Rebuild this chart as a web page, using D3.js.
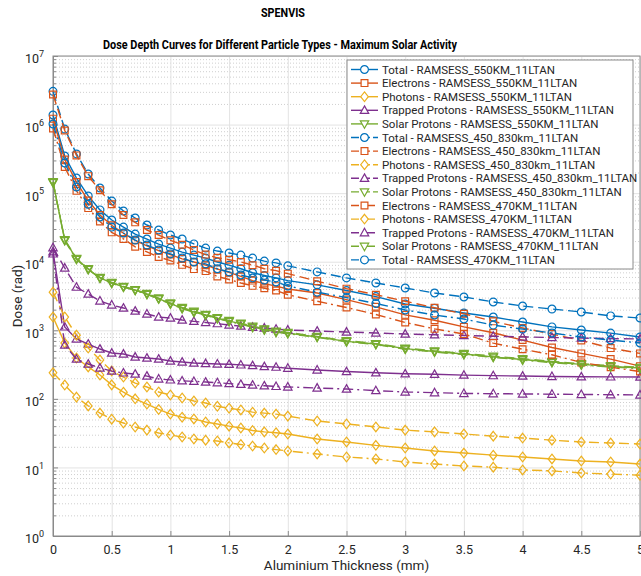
<!DOCTYPE html>
<html>
<head>
<meta charset="utf-8">
<script src="https://cdn.jsdelivr.net/npm/d3@7"></script>
<style>
    body { margin: 0; background: #fff; }
    svg { font-family: Roboto, "Noto Sans", sans-serif; }
</style>
</head>
<body>
<svg id="chart" width="641" height="576"></svg>
<script>
// aluminium depths (mm)
var depths = [0, 0.1, 0.2, 0.3, 0.4, 0.5, 0.6, 0.7, 0.8, 0.9, 1.0, 1.1, 1.2, 1.3, 1.4, 1.5, 1.6, 1.7, 1.8, 1.9, 2.0,
    2.25, 2.5, 2.75, 3.0, 3.25, 3.5, 3.75, 4.0, 4.25, 4.5, 4.75, 5.0];

// RAMSESS_550KM_11LTAN
var total550 = [1.38e6, 3.48e5, 1.66e5, 9.1e4, 5.7e4, 4.06e4, 3.2e4, 2.53e4, 2.14e4, 1.81e4, 1.58e4, 1.38e4, 1.25e4, 1.13e4, 9.9e3, 8.9e3, 7.9e3, 6.9e3, 6.3e3, 5.8e3, 5.3e3,
    4.6e3, 3.8e3, 3.1e3, 2.42e3, 2.1e3, 1.79e3, 1.56e3, 1.32e3, 1.12e3, 1.01e3, 910, 800];
var electrons550 = [1.22e6, 3.1e5, 1.45e5, 7.8e4, 4.8e4, 3.4e4, 2.6e4, 2.05e4, 1.7e4, 1.45e4, 1.27e4, 1.1e4, 9.9e3, 8.9e3, 7.8e3, 7.0e3, 6.1e3, 5.3e3, 4.8e3, 4.4e3, 4.0e3,
    3.5e3, 2.8e3, 2.2e3, 1.68e3, 1.4e3, 1.12e3, 920, 720, 560, 460, 380, 300];
var photons550 = [1560, 650, 394, 292, 223, 160, 125, 100, 84, 70, 60, 54, 51, 46, 43, 40, 37.6, 34.5, 33, 32, 30.7,
    26, 23.5, 21, 19.2, 17.4, 16.2, 15.1, 14.2, 13.3, 12.4, 12, 11.2];
var trapped550 = [1.4e4, 1120, 748, 630, 533, 466, 451, 408, 394, 381, 356, 344, 333, 328, 323, 319, 313, 306, 296, 290, 280,
    264, 250, 240, 232, 228, 222, 218, 215, 212, 210, 209, 208];
var solar550 = [1.45e5, 2.07e4, 1.1e4, 7.8e3, 5.8e3, 4.9e3, 4.3e3, 3.87e3, 3.38e3, 2.9e3, 2.45e3, 2.1e3, 1.85e3, 1.67e3, 1.5e3, 1.36e3, 1.25e3, 1.12e3, 1.03e3, 950, 910,
    800, 690, 630, 540, 490, 450, 410, 375, 345, 318, 298, 282];

// RAMSESS_450_830km_11LTAN
var total450 = [3.05e6, 8.6e5, 3.73e5, 1.9e5, 1.19e5, 7.7e4, 5.5e4, 4.34e4, 3.43e4, 2.9e4, 2.45e4, 2.14e4, 1.82e4, 1.58e4, 1.43e4, 1.34e4, 1.25e4, 1.13e4, 1.02e4, 9.6e3, 8.7e3,
    7.1e3, 5.8e3, 4.9e3, 4.14e3, 3.5e3, 3.06e3, 2.59e3, 2.26e3, 2.04e3, 1.85e3, 1.62e3, 1.51e3];
var electrons450 = [2.75e6, 8.2e5, 3.55e5, 1.77e5, 1.1e5, 6.9e4, 4.8e4, 3.75e4, 2.9e4, 2.45e4, 2.05e4, 1.77e4, 1.48e4, 1.27e4, 1.14e4, 1.07e4, 9.9e3, 8.9e3, 7.9e3, 7.4e3, 6.7e3,
    5.2e3, 4.05e3, 3.3e3, 2.65e3, 2.13e3, 1.74e3, 1.35e3, 1.08e3, 880, 710, 550, 460];
var photons450 = [3600, 1560, 850, 550, 370, 255, 208, 170, 149, 126, 114, 103, 93, 87, 78, 73, 69, 64, 62, 60, 56,
    47.5, 43, 39, 35, 33, 30.7, 28.6, 26.8, 25, 23.5, 22.7, 22];
var trapped450 = [1.6e4, 8100, 4260, 3380, 2680, 2340, 2110, 1910, 1730, 1560, 1510, 1410, 1350, 1300, 1250, 1195, 1150, 1110, 1080, 1040, 1010,
    975, 944, 915, 883, 860, 840, 820, 800, 785, 770, 757, 746];
var solar450 = [1.42e5, 2.1e4, 1.12e4, 7.9e3, 5.9e3, 5.0e3, 4.35e3, 3.9e3, 3.45e3, 2.95e3, 2.5e3, 2.15e3, 1.9e3, 1.7e3, 1.53e3, 1.39e3, 1.27e3, 1.15e3, 1.05e3, 970, 930,
    815, 705, 640, 550, 500, 460, 420, 385, 352, 325, 305, 288];

// RAMSESS_470KM_11LTAN
var total470 = [1.02e6, 2.75e5, 1.23e5, 6.9e4, 4.49e4, 3.2e4, 2.62e4, 2.07e4, 1.75e4, 1.48e4, 1.3e4, 1.13e4, 9.9e3, 9.3e3, 7.9e3, 7.1e3, 6.4e3, 5.8e3, 5.4e3, 5.06e3, 4.42e3,
    3.6e3, 3.0e3, 2.46e3, 1.98e3, 1.67e3, 1.46e3, 1.19e3, 1.04e3, 913, 798, 721, 653];
var electrons470 = [8.8e5, 2.4e5, 1.08e5, 6.05e4, 3.85e4, 2.68e4, 2.15e4, 1.65e4, 1.39e4, 1.17e4, 1.04e4, 9.0e3, 7.8e3, 7.3e3, 6.1e3, 5.5e3, 4.9e3, 4.45e3, 4.1e3, 3.8e3, 3.3e3,
    2.65e3, 2.15e3, 1.7e3, 1.3e3, 1.05e3, 880, 650, 530, 440, 340, 290, 250];
var photons470 = [240, 159, 106, 79, 62, 50.6, 44.5, 38.8, 35, 31.8, 29.7, 27.8, 26, 25, 24.3, 22.8, 21.6, 20.5, 19.2, 18.2, 17.4,
    15.7, 14.2, 13.3, 12, 11.2, 10.5, 10.1, 9.2, 8.9, 8.3, 8.0, 7.7];
var trapped470 = [1.3e4, 610, 380, 322, 282, 254, 239, 230, 215, 195, 189, 183, 180, 176, 172, 167, 163, 159, 155, 152, 149,
    144, 139, 132, 126, 123, 120, 119, 118, 117, 116, 115, 114];
var solar470 = [1.47e5, 2.03e4, 1.08e4, 7.7e3, 5.75e3, 4.85e3, 4.25e3, 3.82e3, 3.33e3, 2.86e3, 2.42e3, 2.07e3, 1.82e3, 1.65e3, 1.48e3, 1.34e3, 1.23e3, 1.1e3, 1.01e3, 935, 895,
    790, 680, 620, 530, 482, 442, 403, 368, 338, 312, 292, 276];

var xTicks = [0, 0.5, 1, 1.5, 2, 2.5, 3, 3.5, 4, 4.5, 5];
var yTicks = [1, 10, 100, 1e3, 1e4, 1e5, 1e6, 1e7];

var blue = "#0072BD", orange = "#D95319", yellow = "#EDB120", purple = "#7E2F8E", green = "#77AC30";
var solid = null, dashed = "10,5", dashDot = "10,4,2,4";

// plot order = legend order
var series = [
    { name: "Total - RAMSESS_550KM_11LTAN", values: total550, color: blue, marker: "o", dash: solid },
    { name: "Electrons - RAMSESS_550KM_11LTAN", values: electrons550, color: orange, marker: "s", dash: solid },
    { name: "Photons - RAMSESS_550KM_11LTAN", values: photons550, color: yellow, marker: "d", dash: solid },
    { name: "Trapped Protons - RAMSESS_550KM_11LTAN", values: trapped550, color: purple, marker: "^", dash: solid },
    { name: "Solar Protons - RAMSESS_550KM_11LTAN", values: solar550, color: green, marker: "v", dash: solid },
    { name: "Total - RAMSESS_450_830km_11LTAN", values: total450, color: blue, marker: "o", dash: dashed },
    { name: "Electrons - RAMSESS_450_830km_11LTAN", values: electrons450, color: orange, marker: "s", dash: dashed },
    { name: "Photons - RAMSESS_450_830km_11LTAN", values: photons450, color: yellow, marker: "d", dash: dashed },
    { name: "Trapped Protons - RAMSESS_450_830km_11LTAN", values: trapped450, color: purple, marker: "^", dash: dashed },
    { name: "Solar Protons - RAMSESS_450_830km_11LTAN", values: solar450, color: green, marker: "v", dash: dashed },
    { name: "Electrons - RAMSESS_470KM_11LTAN", values: electrons470, color: orange, marker: "s", dash: dashDot },
    { name: "Photons - RAMSESS_470KM_11LTAN", values: photons470, color: yellow, marker: "d", dash: dashDot },
    { name: "Trapped Protons - RAMSESS_470KM_11LTAN", values: trapped470, color: purple, marker: "^", dash: dashDot },
    { name: "Solar Protons - RAMSESS_470KM_11LTAN", values: solar470, color: green, marker: "v", dash: dashDot },
    { name: "Total - RAMSESS_470KM_11LTAN", values: total470, color: blue, marker: "o", dash: dashDot }
];

function markerPath(type) {
    switch (type) {
        case "o": return "M3.9,0A3.9,3.9 0 1,1 -3.9,0A3.9,3.9 0 1,1 3.9,0Z";
        case "s": return "M-3.4,-3.4H3.4V3.4H-3.4Z";
        case "d": return "M0,-4.8L3.8,0L0,4.8L-3.8,0Z";
        case "^": return "M0,-4.4L4.2,3.1L-4.2,3.1Z";
        case "v": return "M0,4.4L4.2,-3.1L-4.2,-3.1Z";
    }
}

var svg = d3.select("#chart"),
    margin = { top: 56, right: 1, bottom: 40, left: 53 },
    width = +svg.attr("width") - margin.left - margin.right,
    height = +svg.attr("height") - margin.top - margin.bottom,
    g = svg.append("g").attr("transform", "translate(" + margin.left + "," + margin.top + ")");

var x = d3.scaleLinear().domain([0, 5]).range([0, width]);
var y = d3.scaleLog().domain([1, 1e7]).range([height, 0]);

// minor grid (dotted)
var minorVals = [];
yTicks.slice(0, -1).forEach(function (d) {
    for (var k = 2; k <= 9; k++) minorVals.push(d * k);
});
g.append("g")
    .call(d3.axisLeft(y).tickValues(minorVals).tickSize(-width).tickFormat(""))
    .call(s => s.select(".domain").remove())
    .call(s => s.selectAll(".tick line").attr("stroke", "#cfcfcf").attr("stroke-dasharray", "1,2"));

// major grid
g.append("g")
    .call(d3.axisLeft(y).tickValues(yTicks).tickSize(-width).tickFormat(""))
    .call(s => s.select(".domain").remove())
    .call(s => s.selectAll(".tick line").attr("stroke", "#e3e3e3"));
g.append("g")
    .attr("transform", "translate(0," + height + ")")
    .call(d3.axisBottom(x).tickValues(xTicks).tickSize(-height).tickFormat(""))
    .call(s => s.select(".domain").remove())
    .call(s => s.selectAll(".tick line").attr("stroke", "#e3e3e3"));

// box
g.append("rect")
    .attr("x", 0).attr("y", 0)
    .attr("width", width).attr("height", height)
    .attr("fill", "none").attr("stroke", "#8a8a8a");

// axes
g.append("g")
    .attr("transform", "translate(0," + height + ")")
    .call(d3.axisBottom(x).tickValues(xTicks).tickSizeInner(-5).tickSizeOuter(0).tickPadding(9)
        .tickFormat(d3.format("~g")))
    .call(s => s.select(".domain").attr("stroke", "#8a8a8a"))
    .call(s => s.selectAll(".tick line").attr("stroke", "#8a8a8a"))
    .call(s => s.selectAll(".tick text").attr("font-size", 12.5).attr("fill", "#262626")
        .attr("font-family", "Roboto, sans-serif"));

g.append("g")
    .call(d3.axisLeft(y).tickValues(minorVals).tickSizeInner(-3).tickSizeOuter(0).tickFormat(""))
    .call(s => s.select(".domain").remove())
    .call(s => s.selectAll(".tick line").attr("stroke", "#8a8a8a"));

g.append("g")
    .call(d3.axisLeft(y).tickValues(yTicks).tickSizeInner(-5).tickSizeOuter(0).tickPadding(9)
        .tickFormat(function () { return "10"; }))
    .call(s => s.select(".domain").attr("stroke", "#8a8a8a"))
    .call(s => s.selectAll(".tick line").attr("stroke", "#8a8a8a"))
    .call(s => s.selectAll(".tick text")
        .attr("font-size", 12.5).attr("fill", "#262626").attr("font-family", "Roboto, sans-serif")
        .attr("x", -9).attr("dy", "0.55em")
        .append("tspan")
        .attr("dy", "-0.7em")
        .attr("font-size", 9)
        .text(function (d) { return Math.round(Math.log10(d)); }));

// series
var line = d3.line()
    .x(function (d, i) { return x(depths[i]); })
    .y(function (d) { return y(d); });

var sg = g.append("g")
    .selectAll("g")
    .data(series)
    .join("g")
    .attr("stroke", d => d.color)
    .attr("fill", "none");

sg.append("path")
    .attr("d", d => line(d.values))
    .attr("stroke-width", 1.4)
    .attr("stroke-dasharray", d => d.dash);

sg.selectAll(".mk")
    .data(d => d.values.map(v => ({ v: v, m: d.marker })))
    .join("path")
    .attr("class", "mk")
    .attr("transform", (d, i) => "translate(" + x(depths[i]) + "," + y(d.v) + ")")
    .attr("d", d => markerPath(d.m))
    .attr("stroke-width", 1.2);

// legend
var legend = svg.append("g").attr("transform", "translate(347,60)");
legend.append("rect")
    .attr("width", 286).attr("height", 209)
    .attr("fill", "#fff").attr("stroke", "#8a8a8a");

var item = legend.selectAll(".item")
    .data(series)
    .join("g")
    .attr("class", "item")
    .attr("transform", (d, i) => "translate(0," + (9.5 + i * 13.6) + ")");

item.append("line")
    .attr("x1", 4).attr("x2", 31)
    .attr("stroke", d => d.color)
    .attr("stroke-width", 1.4)
    .attr("stroke-dasharray", d => d.dash ? (d.dash === dashed ? "8,3" : "8,3,2,3") : null);
item.append("path")
    .attr("transform", "translate(17.5,0)")
    .attr("d", d => markerPath(d.marker))
    .attr("fill", "#fff")
    .attr("stroke", d => d.color)
    .attr("stroke-width", 1.2);
item.append("text")
    .attr("x", 35)
    .attr("dy", "0.35em")
    .attr("font-size", 11.5)
    .attr("fill", "#262626")
    .text(d => d.name);

// titles and axis labels
svg.append("text")
    .attr("x", 283).attr("y", 17)
    .attr("text-anchor", "middle")
    .attr("font-weight", "bold").attr("font-size", 13)
    .attr("textLength", 44).attr("lengthAdjust", "spacingAndGlyphs")
    .text("SPENVIS");
svg.append("text")
    .attr("x", 280).attr("y", 49)
    .attr("text-anchor", "middle")
    .attr("font-weight", "bold").attr("font-size", 13)
    .attr("textLength", 354).attr("lengthAdjust", "spacingAndGlyphs")
    .text("Dose Depth Curves for Different Particle Types - Maximum Solar Activity");
svg.append("text")
    .attr("x", margin.left + width / 2).attr("y", 570)
    .attr("text-anchor", "middle")
    .attr("font-size", 13.5).attr("fill", "#262626")
    .text("Aluminium Thickness (mm)");
svg.append("text")
    .attr("transform", "translate(22," + (margin.top + height / 2) + ") rotate(-90)")
    .attr("text-anchor", "middle")
    .attr("font-size", 13.5).attr("fill", "#262626")
    .text("Dose (rad)");
</script>
</body>
</html>
